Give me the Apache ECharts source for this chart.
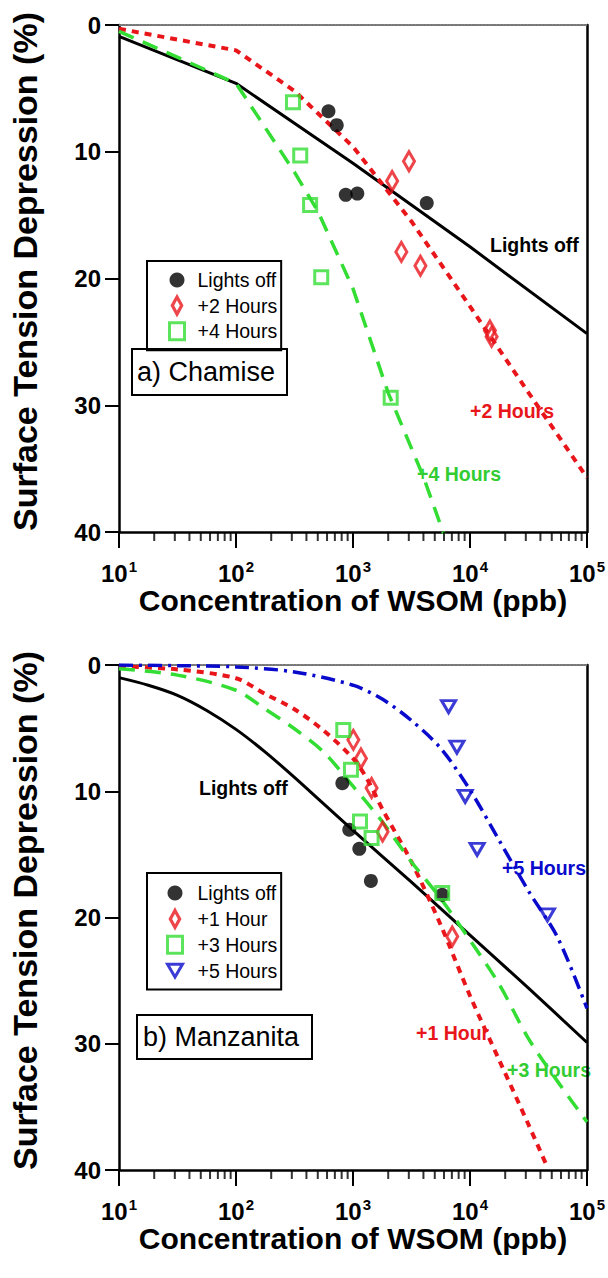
<!DOCTYPE html>
<html><head><meta charset="utf-8">
<script src="https://cdn.jsdelivr.net/npm/echarts@6/dist/echarts.min.js"></script>
<style>html,body{margin:0;padding:0;background:#fff}#c{width:608px;height:1278px}</style>
</head><body><div id="c"></div><script>
// ---------- DATA ----------
const xTickExponents = ['1', '2', '3', '4', '5'];
const minorTickValues = [20,30,40,50,60,70,80,90,200,300,400,500,600,700,800,900,
  2000,3000,4000,5000,6000,7000,8000,9000,20000,30000,40000,50000,60000,70000,80000,90000];

// Panel a) Chamise - measurements
const chamiseOffX = [617, 726, 867, 1089, 4270];
const chamiseOffY = [6.8, 7.9, 13.4, 13.3, 14.05];
const chamise2hX = [2160, 3010, 2590, 3770, 14800, 15300];
const chamise2hY = [12.3, 10.75, 17.9, 19.0, 24.1, 24.6];
const chamise4hX = [307, 354, 430, 535, 2100];
const chamise4hY = [6.1, 10.3, 14.2, 19.9, 29.4];
// Panel a) fits
const chamiseOffFitX = [10, 100, 1000, 10000, 100000];
const chamiseOffFitY = [0.9, 4.6, 10.9, 17.5, 24.35];
const chamise2hFitX = [10, 100, 316, 1000, 3162, 10000, 31623, 100000];
const chamise2hFitY = [0.3, 2.0, 5.2, 9.6, 15.5, 22.2, 29.0, 35.7];
const chamise4hFitX = [10, 100, 316, 501, 1000, 1995, 3981, 5888, 7079];
const chamise4hFitY = [0.5, 4.6, 11.6, 14.7, 20.8, 29.0, 35.6, 40.0, 42.0];

// Panel b) Manzanita - measurements
const manzOffX = [811, 929, 1132, 1422, 5790];
const manzOffY = [9.36, 13.05, 14.56, 17.1, 18.2];
const manz1hX = [1007, 1170, 1442, 1790, 7050];
const manz1hY = [5.93, 7.4, 9.75, 13.2, 21.5];
const manz3hX = [826, 961, 1148, 1442, 5790];
const manz3hY = [5.14, 8.3, 12.4, 13.7, 18.06];
const manz5hX = [6560, 7730, 9100, 11510, 45900];
const manz5hY = [3.3, 6.5, 10.4, 14.6, 19.8];
// Panel b) fits
const manzOffFitX = [10, 17.8, 31.6, 56.2, 100, 178, 316, 562, 1000, 3162, 10000, 31623, 100000];
const manzOffFitY = [1.0, 1.6, 2.4, 3.6, 5.1, 6.9, 8.9, 11.0, 13.1, 17.2, 21.4, 25.6, 29.9];
const manz1hFitX = [10, 31.6, 100, 178, 316, 562, 1000, 1334, 1778, 3162, 5623, 10000, 17783, 31623, 45000];
const manz1hFitY = [0.1, 0.35, 1.05, 2.3, 3.5, 5.2, 7.4, 9.1, 11.4, 15.6, 20.6, 26.2, 31.3, 36.4, 39.6];
const manz3hFitX = [10, 31.6, 100, 178, 316, 562, 1000, 1778, 3162, 5623, 10000, 17783, 31623, 56234, 100000];
const manz3hFitY = [0.3, 0.8, 2.0, 3.5, 5.05, 6.9, 9.6, 12.4, 15.6, 18.5, 21.8, 25.3, 29.6, 33.0, 36.2];
const manz5hFitX = [10, 31.6, 100, 316, 1000, 1778, 3162, 5623, 10000, 17783, 31623, 56234, 100000];
const manz5hFitY = [0, 0.05, 0.15, 0.55, 1.6, 2.7, 4.4, 6.6, 9.9, 13.9, 17.9, 21.6, 27.2];

// ---------- STYLE ----------
const FONT = '"Liberation Sans", Arial, sans-serif';
const RED = '#e8161b', GREEN = '#33dd33', BLUE = '#0a0acc', BLACK = '#000';
const DIAMOND = 'path://M0,-10L5.5,0L0,10L-5.5,0Z';
const TRI_DOWN = 'path://M-7,-6L7,-6L0,6Z';
const CLEAR = 'rgba(0,0,0,0)';

const pairs = (xs, ys) => xs.map((x, i) => [x, ys[i]]);

function xMain(g) {
  return {
    type: 'log', logBase: 10, gridIndex: g, min: 10, max: 100000, splitNumber: 4, position: 'bottom',
    axisLine: {show: true, onZero: false, lineStyle: {color: BLACK, width: 2.5}},
    axisTick: {show: true, inside: false, length: 16, lineStyle: {color: BLACK, width: 2}},
    splitLine: {show: false}, minorTick: {show: false},
    axisLabel: {
      margin: 27, showMinLabel: true, showMaxLabel: true,
      formatter: v => { const e = Math.round(Math.log10(v)); return '{b|10}{s|' + xTickExponents[e - 1] + '}'; },
      rich: {
        b: {fontSize: 24, fontWeight: 'bold', fontFamily: FONT, color: BLACK, lineHeight: 26, padding: [9, 0, 0, 0], verticalAlign: 'bottom'},
        s: {fontSize: 15, fontWeight: 'bold', fontFamily: FONT, color: BLACK, lineHeight: 16, padding: [0, 0, 0, 1], verticalAlign: 'top'}
      }
    },
    name: 'Concentration of WSOM (ppb)', nameLocation: 'middle', nameGap: 52,
    nameTextStyle: {fontSize: 30, fontWeight: 'bold', fontFamily: FONT, color: BLACK}
  };
}
function xTop(g) {
  return {
    type: 'log', logBase: 10, gridIndex: g, min: 10, max: 100000, position: 'top',
    axisLine: {show: true, onZero: false, lineStyle: {color: '#777', width: 2, type: [2, 1.5]}},
    axisTick: {show: false}, axisLabel: {show: false}, splitLine: {show: false}
  };
}
function yLeft(g) {
  return {
    type: 'value', gridIndex: g, inverse: true, min: 0, max: 40, interval: 10, position: 'left',
    axisLine: {show: true, onZero: false, lineStyle: {color: BLACK, width: 2.5}},
    axisTick: {show: true, length: 14, lineStyle: {color: BLACK, width: 2}},
    axisLabel: {margin: 18, fontSize: 24, fontWeight: 'bold', fontFamily: FONT, color: BLACK},
    splitLine: {show: false},
    name: 'Surface Tension Depression (%)', nameLocation: 'middle', nameGap: 77, nameRotate: 90,
    nameTextStyle: {fontSize: 34, fontWeight: 'bold', fontFamily: FONT, color: BLACK, padding: [0, 0, 0, 14]}
  };
}
function yRight(g) {
  return {
    type: 'value', gridIndex: g, inverse: true, min: 0, max: 40, position: 'right',
    axisLine: {show: true, onZero: false, lineStyle: {color: BLACK, width: 2.5}},
    axisTick: {show: false}, axisLabel: {show: false}, splitLine: {show: false}
  };
}
function fit(name, xi, xs, ys, color, width, type, smooth) {
  return {type: 'line', name, xAxisIndex: xi, yAxisIndex: xi, data: pairs(xs, ys),
    symbol: 'none', showSymbol: false, silent: true, clip: true, z: 2, smooth: smooth || false,
    lineStyle: {color, width, type}};
}
function pts(name, xi, xs, ys, symbol, size, style) {
  return {type: 'scatter', name, xAxisIndex: xi, yAxisIndex: xi, data: pairs(xs, ys),
    symbol, symbolSize: size, itemStyle: style, silent: true, z: 4};
}
function minor(xi) {
  return {type: 'scatter', name: 'minor' + xi, xAxisIndex: xi, yAxisIndex: xi,
    data: minorTickValues.map(v => [v, 40]), symbol: 'rect', symbolSize: [2, 9], symbolOffset: [0, 4.5],
    itemStyle: {color: BLACK}, silent: true, clip: false, z: 5};
}
function lbl(text, x, y, color) {
  return {type: 'text', x, y, silent: true,
    style: {text, fill: color, font: 'bold 19.5px ' + FONT, textVerticalAlign: 'middle', verticalAlign: 'middle'}};
}
const circStyle = {color: BLACK};
const diaStyle = {color: CLEAR, borderColor: RED, borderWidth: 3.2};
const sqStyle = {color: CLEAR, borderColor: GREEN, borderWidth: 3};
const triStyle = {color: CLEAR, borderColor: BLUE, borderWidth: 3};
const legendTextA = {fontSize: 19.5, fontFamily: FONT, color: BLACK, lineHeight: 17, padding: [0, 0, 0, 8]};
const legendTextB = {fontSize: 19.5, fontFamily: FONT, color: BLACK, lineHeight: 17, padding: [0, 0, 0, 10]};

const option = {
  animation: false,
  backgroundColor: '#fff',
  grid: [
    {left: 118, top: 25, width: 470, height: 507},
    {left: 118, top: 665, width: 470, height: 505}
  ],
  xAxis: [xMain(0), xTop(0), xMain(1), xTop(1)],
  yAxis: [yLeft(0), yRight(0), yLeft(1), yRight(1)],
  legend: [
    {orient: 'vertical', left: 147, top: 261, itemWidth: 15, itemHeight: 17, itemGap: 5.5,
     padding: [9, 4, 9, 21], borderColor: BLACK, borderWidth: 2, selectedMode: false, textStyle: legendTextA,
     data: [
       {name: 'Lights off', icon: 'circle', itemStyle: circStyle},
       {name: '+2 Hours', icon: DIAMOND, itemStyle: diaStyle},
       {name: '+4 Hours', icon: 'rect', itemStyle: sqStyle}
     ]},
    {orient: 'vertical', left: 147, top: 873, itemWidth: 15, itemHeight: 17, itemGap: 5.8,
     padding: [10, 4, 9, 19], borderColor: BLACK, borderWidth: 2, selectedMode: false, textStyle: legendTextB,
     data: [
       {name: 'Lights off', icon: 'circle', itemStyle: circStyle},
       {name: '+1 Hour', icon: DIAMOND, itemStyle: diaStyle},
       {name: '+3 Hours', icon: 'rect', itemStyle: sqStyle},
       {name: '+5 Hours', icon: TRI_DOWN, itemStyle: triStyle}
     ]}
  ],
  title: [
    {text: 'a) Chamise', left: 132, top: 349, borderColor: BLACK, borderWidth: 2, padding: [7, 12, 7, 5],
     textStyle: {fontSize: 27, fontWeight: 'normal', fontFamily: FONT, color: BLACK, lineHeight: 32}},
    {text: 'b) Manzanita', left: 137, top: 1015, borderColor: BLACK, borderWidth: 2, padding: [6, 13, 6, 6],
     textStyle: {fontSize: 27, fontWeight: 'normal', fontFamily: FONT, color: BLACK, lineHeight: 32}}
  ],
  graphic: [
    lbl('Lights off', 490, 245, BLACK),
    lbl('+2 Hours', 470, 411, RED),
    lbl('+4 Hours', 417, 474, '#33cc33'),
    lbl('Lights off', 199, 788, BLACK),
    lbl('+5 Hours', 502, 868, BLUE),
    lbl('+1 Hour', 416, 1033, RED),
    lbl('+3 Hours', 507, 1070, '#33cc33')
  ],
  series: [
    fit('fitA0', 0, chamiseOffFitX, chamiseOffFitY, BLACK, 3, 'solid'),
    fit('fitA2', 0, chamise2hFitX, chamise2hFitY, RED, 4, [7, 6]),
    fit('fitA4', 0, chamise4hFitX, chamise4hFitY, GREEN, 3.5, [16, 10]),
    pts('Lights off', 0, chamiseOffX, chamiseOffY, 'circle', 14, circStyle),
    pts('+2 Hours', 0, chamise2hX, chamise2hY, DIAMOND, [11, 19], diaStyle),
    pts('+4 Hours', 0, chamise4hX, chamise4hY, 'rect', 13, sqStyle),
    minor(0),
    fit('fitB0', 2, manzOffFitX, manzOffFitY, BLACK, 3, 'solid', 0.3),
    fit('fitB1', 2, manz1hFitX, manz1hFitY, RED, 4, [7, 6], 0.3),
    fit('fitB3', 2, manz3hFitX, manz3hFitY, GREEN, 3.5, [16, 10], 0.3),
    fit('fitB5', 2, manz5hFitX, manz5hFitY, BLUE, 3.5, [14, 6, 3, 6], 0.3),
    pts('Lights off', 2, manzOffX, manzOffY, 'circle', 14, circStyle),
    pts('+1 Hour', 2, manz1hX, manz1hY, DIAMOND, [11, 19], diaStyle),
    pts('+3 Hours', 2, manz3hX, manz3hY, 'rect', 13, sqStyle),
    pts('+5 Hours', 2, manz5hX, manz5hY, TRI_DOWN, [14, 12], triStyle),
    minor(2)
  ]
};
const chart = echarts.init(document.getElementById('c'), null, {renderer: 'svg'});
chart.setOption(option);
</script></body></html>
